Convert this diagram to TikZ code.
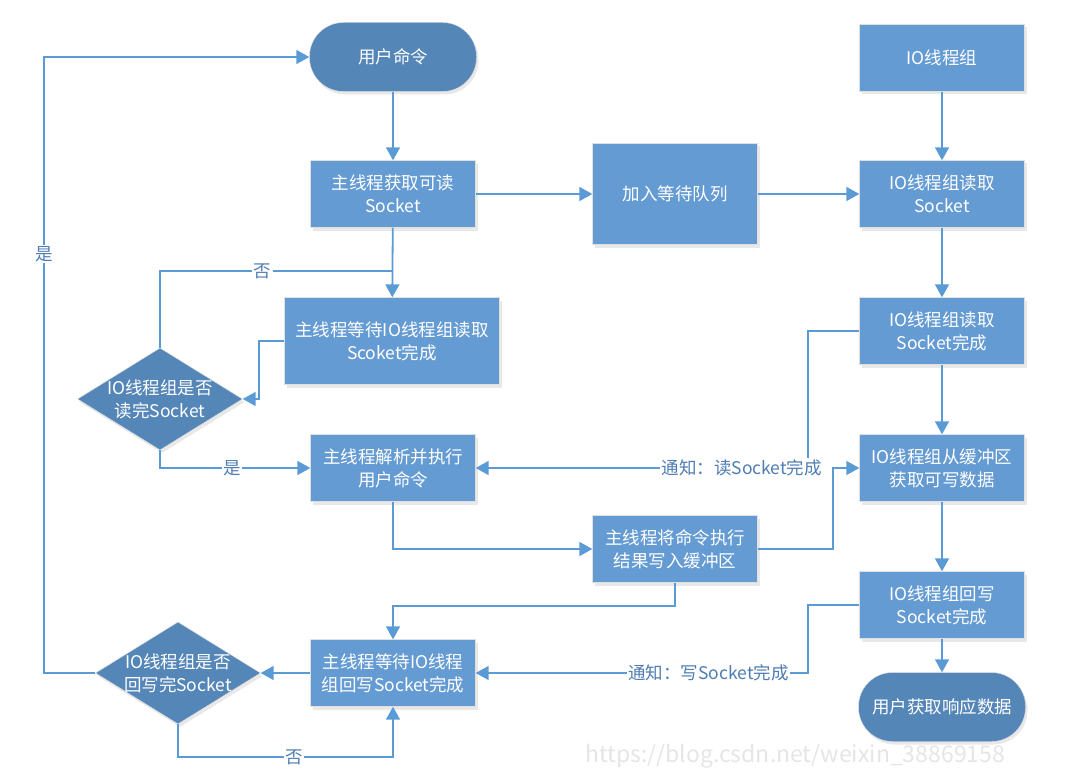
\documentclass[tikz,border=0pt]{standalone}
\usepackage{fontspec}
\setmainfont{Noto Sans CJK SC}
\usetikzlibrary{arrows.meta,shapes.geometric,shadows}
\definecolor{boxblue}{HTML}{659BD3}
\definecolor{darkblue}{HTML}{5586B8}
\definecolor{lineblue}{HTML}{5B9BD5}
\definecolor{lbltext}{HTML}{4F7DB3}
\newcommand\boxfont{\fontsize{17.5}{23}\selectfont}
\newcommand\lblfont{\fontsize{17.5}{20}\selectfont}

\begin{document}
\begin{tikzpicture}[x=1pt, y=-1pt,
  shade/.style = {drop shadow={opacity=0.18, shadow xshift=2pt, shadow yshift=-3pt}},
  box/.style = {draw=black!12, fill=boxblue, text=white, align=center, font=\boxfont,
    minimum width=165pt, minimum height=67pt, inner sep=2pt, shade},
  term/.style = {draw=black!12, fill=darkblue, text=white, font=\boxfont,
    minimum width=167pt, minimum height=69pt, rounded corners=34pt, shade},
  decision/.style = {diamond, draw=black!12, fill=darkblue, inner sep=0pt,
    minimum width=165pt, minimum height=102pt, shade},
  dtext/.style = {text=white, align=center, font=\boxfont},
  flow/.style = {draw=lineblue, line width=1.8pt},
  arr/.style = {flow, -{Triangle[length=13pt,width=14pt]}},
  lbl/.style = {fill=white, text=lbltext, font=\lblfont, inner sep=1.5pt}]
  \useasboundingbox (0,0) rectangle (1078,770);

  % main thread column
  \node[term] (start) at (393,57) {用户命令};
  \node[box] (getread) at (393,194) {主线程获取可读\\Socket};
  \node[box, minimum width=215pt, minimum height=87pt] (waitread) at (392,341) {主线程等待IO线程组读取\\Scoket完成};
  \node[decision, label={[dtext]center:{IO线程组是否\\读完Socket}}] (dec1) at (160,399) {};
  \node[box] (parse) at (393,468) {主线程解析并执行\\用户命令};
  \node[box] (waitwrite) at (393,673) {主线程等待IO线程\\组回写Socket完成};
  \node[decision, label={[dtext]center:{IO线程组是否\\回写完Socket}}] (dec2) at (178,673) {};

  % middle column
  \node[box, minimum height=101pt] (queue) at (675,194) {加入等待队列};
  \node[box] (wbuf) at (675,549) {主线程将命令执行\\结果写入缓冲区};

  % IO thread column
  \node[box] (iogrp) at (942,58) {IO线程组};
  \node[box] (ioread) at (942,194) {IO线程组读取\\Socket};
  \node[box] (ioreaddone) at (942,331) {IO线程组读取\\Socket完成};
  \node[box] (iofetch) at (942,468) {IO线程组从缓冲区\\获取可写数据};
  \node[box] (iowrite) at (942,605) {IO线程组回写\\Socket完成};
  \node[term] (resp) at (942,707) {用户获取响应数据};

  \coordinate (j1) at (393,271);

  \draw[arr] (start) -- (getread);
  \draw[arr] (getread) -- (queue);
  \draw[arr] (queue) -- (ioread);
  \draw[arr] (iogrp) -- (ioread);
  \draw[arr] (ioread) -- (ioreaddone);
  \draw[arr] (ioreaddone) -- (iofetch);
  \draw[arr] (iofetch) -- (iowrite);
  \draw[arr] (iowrite) -- (resp);
  \draw[arr] (getread) -- (waitread);
  \draw[arr] (waitread.west) -- ++(-25,0) |- (dec1.east);
  \draw[flow] (dec1.north) |- node[lbl, pos=0.72] {否} (j1);
  \draw[arr] (dec1.south) |- node[lbl, pos=0.74] {是} (parse.west);
  \draw[arr] (ioreaddone.west) -- ++(-51,0) |- node[lbl, pos=0.6] {通知：读Socket完成} (parse.east);
  \draw[arr] (parse.south) |- (wbuf.west);
  \draw[arr] (wbuf.east) -- ++(75,0) |- (iofetch.west);
  \draw[arr] (wbuf.south) -- ++(0,23) -| (waitwrite.north);
  \draw[arr] (iowrite.west) -- ++(-51,0) |- node[lbl, pos=0.65] {通知：写Socket完成} (waitwrite.east);
  \draw[arr] (waitwrite) -- (dec2);
  \draw[arr] (dec2.south) -- ++(0,33) -| node[lbl, pos=0.27] {否} (waitwrite.south);
  \draw[arr] (dec2.west) -- ++(-51,0) |- node[lbl, pos=0.34] {是} (start.west);

  \node[anchor=north west, text=black!10, font=\fontsize{23}{23}\selectfont, inner sep=0pt] (mark) at (585,744) {https://blog.csdn.net/weixin\_38869158};
\end{tikzpicture}
\end{document}
